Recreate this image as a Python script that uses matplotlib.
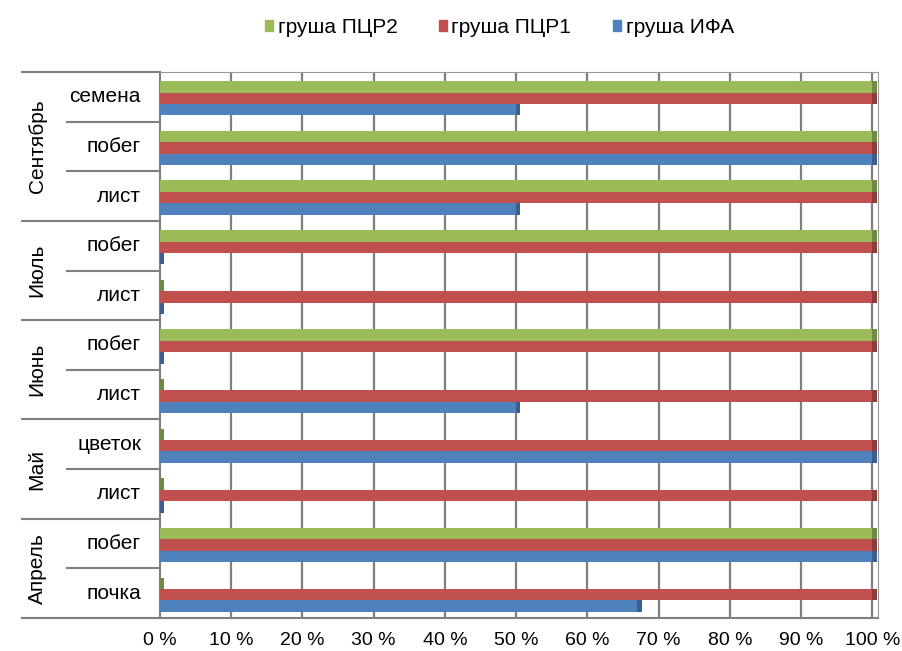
import matplotlib.pyplot as plt
from matplotlib.patches import Patch

# categories bottom -> top
months = ["Апрель", "Май", "Июнь", "Июль", "Сентябрь"]
parts = [["почка", "побег"], ["лист", "цветок"], ["лист", "побег"],
         ["лист", "побег"], ["лист", "побег", "семена"]]

ifa = [67, 100, 0, 100, 50, 0, 0, 0, 50, 100, 50]
pcr1 = [100, 100, 100, 100, 100, 100, 100, 100, 100, 100, 100]
pcr2 = [0, 100, 0, 0, 0, 100, 0, 100, 100, 100, 100]

series = [("груша ИФА", ifa, "#4F81BD", "#3A6090"),
          ("груша ПЦР1", pcr1, "#C0504D", "#8E3B39"),
          ("груша ПЦР2", pcr2, "#9BBB59", "#718A41")]

plt.rcParams['font.family'] = ['Liberation Sans', 'DejaVu Sans']

fig = plt.figure(figsize=(9.03, 6.51), dpi=100)
fig.patch.set_facecolor("white")
ax = fig.add_axes([160 / 903, 33 / 651, 718 / 903, 546 / 651])

n = len(ifa)
bh = 0.23
ax.set_xlim(0, 100.8)
ax.set_ylim(-0.5, n - 0.5)
for x in range(10, 101, 10):
    ax.axvline(x, color="#7f7f7f", lw=1.6, zorder=1)

for k, (name, vals, col, dark) in enumerate(series):
    ys = [i + (k - 1) * bh - 0.03 for i in range(n)]
    ax.barh(ys, vals, height=bh, color=col, zorder=3, edgecolor="none")
    # darker end cap for 3d look
    ax.barh(ys, [0.6] * n, left=vals, height=bh, color=dark, zorder=3,
            edgecolor="none")

ax.set_yticks([])
ax.set_xticks(range(0, 101, 10))
ax.set_xticklabels([f"{v} %" for v in range(0, 101, 10)], fontsize=14)
ax.tick_params(axis="x", length=0, pad=10)
for s in ["top", "right"]:
    ax.spines[s].set_color("#9a9a9a")
ax.spines["left"].set_color("#7f7f7f")
ax.spines["left"].set_linewidth(1.5)
ax.spines["bottom"].set_color("#7f7f7f")
ax.spines["bottom"].set_linewidth(1.5)

# multi-level category labels
tr = ax.get_yaxis_transform()
lab_x = -19 / 718
idx = 0
for m, subs in zip(months, parts):
    start = idx
    for s in subs:
        ax.text(lab_x, idx, s, transform=tr, ha="right", va="center",
                fontsize=15)
        if idx > start:
            ax.plot([-93 / 718, 0], [idx - 0.5, idx - 0.5], transform=tr,
                    color="#7f7f7f", lw=1.5, clip_on=False)
        idx += 1
    ax.plot([-138 / 718, 0], [start - 0.5, start - 0.5], transform=tr,
            color="#7f7f7f", lw=1.5, clip_on=False)
    ax.text(-123 / 718, (start + idx - 1) / 2, m, transform=tr, rotation=90,
            ha="center", va="center", fontsize=15)
ax.plot([-138 / 718, 0], [n - 0.5, n - 0.5], transform=tr,
        color="#7f7f7f", lw=1.5, clip_on=False)

handles = [Patch(color=c, label=nm) for nm, v, c, d in series[::-1]]
fig.legend(handles=handles, loc="center", bbox_to_anchor=(0.553, 0.958),
           ncol=3, frameon=False, fontsize=15, handlelength=0.4,
           handleheight=0.4, handletextpad=0.2, columnspacing=2.0)

fig.savefig("out.png", dpi=100)
